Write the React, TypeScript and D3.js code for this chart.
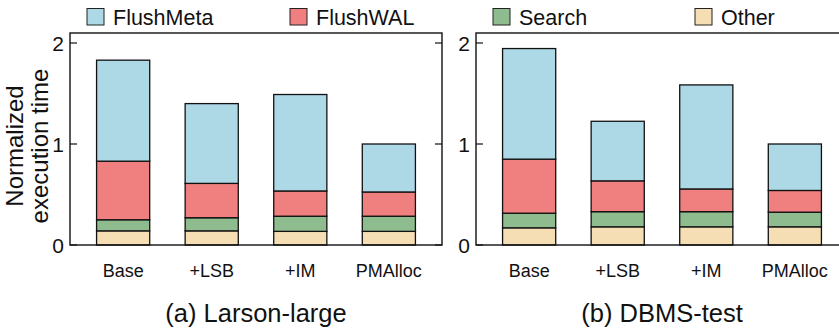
import React from "react";
import * as d3 from "d3";

const categories = ["Base", "+LSB", "+IM", "PMAlloc"];
const seriesNames = ["Other", "Search", "FlushWAL", "FlushMeta"];
const seriesColors = ["#F5DEB3", "#8FBC8F", "#F08080", "#ADD8E6"];
const legendOrder = ["FlushMeta", "FlushWAL", "Search", "Other"];

// Larson-large components (Other, Search, FlushWAL, FlushMeta) per configuration
const larsonOther = [0.14, 0.14, 0.135, 0.135];
const larsonSearch = [0.11, 0.13, 0.15, 0.15];
const larsonWAL = [0.58, 0.34, 0.25, 0.24];
const larsonMeta = [1.0, 0.79, 0.955, 0.475];

// DBMS-test components
const dbmsOther = [0.17, 0.18, 0.18, 0.18];
const dbmsSearch = [0.145, 0.15, 0.15, 0.145];
const dbmsWAL = [0.535, 0.305, 0.225, 0.215];
const dbmsMeta = [1.095, 0.59, 1.03, 0.46];

const yTicks = [0, 1, 2];
const panelTitles = ["(a) Larson-large", "(b) DBMS-test"];

const W = 839;
const H = 332;
const FONT = "'Liberation Sans', Arial, Helvetica, sans-serif";

const top = 33;
const bottom = 245;
const panelW = 372;
const panelLefts = [70, 476];

// one unit of normalized time spans 101px
const y = d3.scaleLinear().domain([0, (bottom - top) / 101]).range([bottom, top]);

function buildRows(other: number[], search: number[], wal: number[], meta: number[]) {
  return categories.map((c, i) => ({
    cat: c,
    Other: other[i],
    Search: search[i],
    FlushWAL: wal[i],
    FlushMeta: meta[i],
  }));
}

const panels = [
  buildRows(larsonOther, larsonSearch, larsonWAL, larsonMeta),
  buildRows(dbmsOther, dbmsSearch, dbmsWAL, dbmsMeta),
];

const stack = d3.stack<any>().keys(seriesNames);

function Panel({ rows, left, title }: { rows: any[]; left: number; title: string }) {
  const x = d3
    .scaleBand<string>()
    .domain(categories)
    .range([left, left + panelW])
    .paddingInner(0.4)
    .paddingOuter(0.3);
  const layers = stack(rows);
  const right = left + panelW;
  return (
    <g>
      {layers.map((layer, li) => (
        <g key={layer.key}>
          {layer.map((d, i) => (
            <rect
              key={i}
              x={x(rows[i].cat)}
              y={y(d[1])}
              width={x.bandwidth()}
              height={y(d[0]) - y(d[1])}
              fill={seriesColors[li]}
              stroke="#111"
              strokeWidth={1.3}
            />
          ))}
        </g>
      ))}
      <rect x={left} y={top} width={panelW} height={bottom - top} fill="none" stroke="#111" strokeWidth={1.4} />
      {yTicks.map((t) => (
        <g key={t}>
          <line x1={left} x2={left + 7} y1={y(t)} y2={y(t)} stroke="#111" strokeWidth={1.2} />
          <line x1={right - 7} x2={right} y1={y(t)} y2={y(t)} stroke="#111" strokeWidth={1.2} />
          <text x={left - 6} y={y(t) + 7.5} textAnchor="end" fontSize={21} fontFamily={FONT} fill="#111">
            {t}
          </text>
        </g>
      ))}
      {categories.map((c) => (
        <text
          key={c}
          x={(x(c) as number) + x.bandwidth() / 2}
          y={277}
          textAnchor="middle"
          fontSize={18}
          fontFamily={FONT}
          fill="#111"
        >
          {c}
        </text>
      ))}
      <text x={left + panelW / 2} y={322} textAnchor="middle" fontSize={25.5} fontFamily={FONT} fill="#111">
        {title}
      </text>
    </g>
  );
}

const legendX = [87, 290, 493, 695];

export default function App() {
  return (
    <svg width={W} height={H} style={{ position: "absolute", left: 0, top: 0 }}>
      <rect width={W} height={H} fill="#fff" />
      {panels.map((rows, i) => (
        <Panel key={i} rows={rows} left={panelLefts[i]} title={panelTitles[i]} />
      ))}
      {legendOrder.map((name, i) => (
        <g key={name}>
          <rect
            x={legendX[i]}
            y={8.5}
            width={17}
            height={16.5}
            fill={seriesColors[seriesNames.indexOf(name)]}
            stroke="#222"
            strokeWidth={1}
          />
          <text x={legendX[i] + 26} y={25} fontSize={21.5} fontFamily={FONT} fill="#111">
            {name}
          </text>
        </g>
      ))}
      <g transform="translate(0,146) rotate(-90)">
        <text x={0} y={23} textAnchor="middle" fontSize={24} fontFamily={FONT} fill="#111">
          Normalized
        </text>
        <text x={0} y={48} textAnchor="middle" fontSize={24} fontFamily={FONT} fill="#111">
          execution time
        </text>
      </g>
    </svg>
  );
}
